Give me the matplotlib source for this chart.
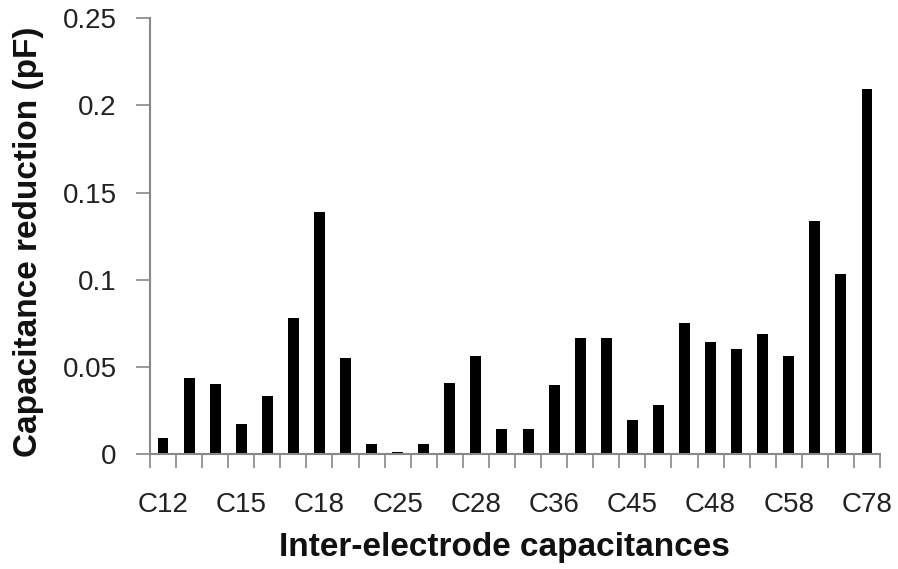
import matplotlib
matplotlib.use("Agg")
import matplotlib.pyplot as plt
import numpy as np

categories = ["C12", "C13", "C14", "C15", "C16", "C17", "C18",
              "C23", "C24", "C25", "C26", "C27", "C28",
              "C34", "C35", "C36", "C37", "C38",
              "C45", "C46", "C47", "C48",
              "C56", "C57", "C58",
              "C67", "C68", "C78"]
values = [0.0093, 0.0437, 0.040, 0.017, 0.0334, 0.0778, 0.1387,
          0.055, 0.0056, 0.0011, 0.0056, 0.041, 0.056,
          0.0143, 0.0143, 0.0397, 0.0663, 0.0663,
          0.0195, 0.0283, 0.0752, 0.064,
          0.060, 0.069, 0.056,
          0.1335, 0.103, 0.2096]
yticks = [0, 0.05, 0.1, 0.15, 0.2, 0.25]
ytick_labels = ["0", "0.05", "0.1", "0.15", "0.2", "0.25"]

plt.rcParams['font.family'] = ['Liberation Sans', 'DejaVu Sans']

fig = plt.figure(figsize=(8.98, 5.69), dpi=100)
ax = fig.add_axes([0.167, 0.202, 0.813, 0.766])

x = np.arange(len(categories))
ax.bar(x, values, width=0.42, color='black')

ax.set_xlim(-0.5, len(categories) - 0.5)
ax.set_ylim(0, 0.25)

# category ticks between bars (Excel style)
ax.set_xticks(np.arange(len(categories) + 1) - 0.5)
ax.set_xticklabels([])
ax.set_xticks(x[::3], minor=True)
ax.set_xticklabels([categories[i] for i in x[::3]], minor=True, fontsize=20, color='#222222')
ax.tick_params(axis='x', which='minor', length=0, pad=27)
ax.tick_params(axis='x', which='major', length=10, width=1.2, color='#888888', direction='out')

ax.set_yticks(yticks)
ax.set_yticklabels(ytick_labels, fontsize=20, color='#222222')
ax.tick_params(axis='y', length=10, width=1.2, color='#888888', direction='out', pad=14)

for s in ['top', 'right']:
    ax.spines[s].set_visible(False)
for s in ['left', 'bottom']:
    ax.spines[s].set_color('#888888')
    ax.spines[s].set_linewidth(1.5)

ax.set_xlabel("Inter-electrode capacitances", fontsize=24, fontweight='bold', color='#111111')
ax.set_ylabel("Capacitance reduction (pF)", fontsize=24, fontweight='bold', color='#111111')
ax.xaxis.set_label_coords(0.486, -0.214)
ax.yaxis.set_label_coords(-0.167, 0.487)
ax.yaxis.label.set_va('center')
ax.xaxis.label.set_va('center')

fig.savefig("out.png", dpi=100)
